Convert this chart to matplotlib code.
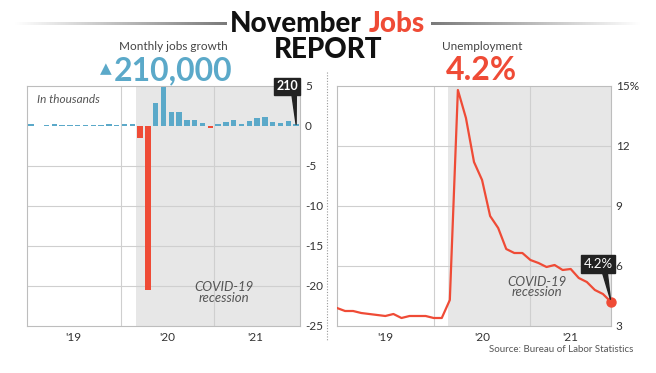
import numpy as np
import matplotlib
matplotlib.use("Agg")
import matplotlib.pyplot as plt
from matplotlib.lines import Line2D
from matplotlib.colors import LinearSegmentedColormap

plt.rcParams['font.family'] = ['Lato', 'DejaVu Sans']

# ── Palette ──────────────────────────────────────────────────────────────────
BLUE  = "#5BA9C9"
RED   = "#EF4B36"
SHADE = "#E7E7E7"
GRID  = "#CFCFCF"
FRAME = "#BDBDBD"
TEXT  = "#333333"
DIM   = "#555555"
DARK  = "#222222"

W, H = 656, 373

# ── Data ─────────────────────────────────────────────────────────────────────
# monthly payroll change (millions), Jan 2019 .. Nov 2021
jobs = [0.20, -0.05, 0.15, 0.20, 0.08, 0.15, 0.15, 0.15, 0.15, 0.15, 0.20, 0.15,
        0.30, 0.30, -1.55, -20.5, 2.9, 4.9, 1.8, 1.7, 0.75, 0.75, 0.35, -0.3,
        0.25, 0.5, 0.8, 0.3, 0.6, 1.0, 1.1, 0.5, 0.4, 0.6, 0.21]

# unemployment rate (%), Jan 2019 .. Nov 2021
unemp = [3.9, 3.75, 3.75, 3.65, 3.6, 3.55, 3.5, 3.6, 3.4, 3.5, 3.5, 3.5,
         3.4, 3.4, 4.3, 14.8, 13.4, 11.2, 10.3, 8.5, 7.9, 6.85, 6.65, 6.65,
         6.3, 6.15, 5.95, 6.05, 5.8, 5.85, 5.4, 5.2, 4.8, 4.6, 4.2]

year_labels = ["'19", "'20", "'21"]
jobs_ticks  = [5, 0, -5, -10, -15, -20, -25]
unemp_ticks = [15, 12, 9, 6, 3]
unemp_tick_labels = ["15%", "12", "9", "6", "3"]


def fx(x):
    return x / W


def fy(y):
    return 1 - y / H


def style_axes(ax):
    for s in ax.spines.values():
        s.set_color(FRAME)
        s.set_linewidth(0.8)
    ax.yaxis.tick_right()
    ax.tick_params(length=0, labelsize=8.5, colors=TEXT)
    ax.set_axisbelow(True)


fig = plt.figure(figsize=(W / 100, H / 100), dpi=100)
fig.patch.set_facecolor("white")

# ── Left panel: jobs ─────────────────────────────────────────────────────────
ax1 = fig.add_axes([fx(27), fy(326), fx(300) - fx(27), fy(86) - fy(326)])
n = len(jobs)
xs = np.arange(n)
colors = [BLUE if v >= 0 else RED for v in jobs]
ax1.bar(xs, jobs, width=0.7, color=colors, zorder=3)
ax1.axvspan(13.5, n - 0.5, color=SHADE, zorder=0, lw=0)
ax1.set_xlim(-0.5, n - 0.5)
ax1.set_ylim(-25, 5)
ax1.set_yticks(jobs_ticks)
ax1.set_yticklabels([str(t) for t in jobs_ticks])
for y in [-5, -10, -15, -20]:
    ax1.axhline(y, color=GRID, lw=0.8, zorder=1)
for x in [11.5, 23.5]:
    ax1.axvline(x, color=GRID, lw=0.8, zorder=1)
ax1.set_xticks([5.5, 17.5, 28.8])
ax1.set_xticklabels(year_labels)
style_axes(ax1)
ax1.tick_params(axis="x", pad=4)
ax1.text(0.035, 0.945, "In thousands", transform=ax1.transAxes, style="italic",
         fontsize=8.5, color=DIM, va="center", ha="left")
ax1.text(24.7, -20.8, "COVID-19\nrecession", style="italic", fontsize=9.5,
         color=DIM, ha="center", va="center", linespacing=0.9)
ax1.annotate("210", xy=(n - 1, jobs[-1]), xytext=(fx(287), fy(86)),
             textcoords="figure fraction", color="white", fontsize=9,
             fontweight="bold", ha="center", va="center",
             bbox=dict(boxstyle="square,pad=0.2", fc=DARK, ec=DARK),
             arrowprops=dict(arrowstyle="wedge,tail_width=0.35", fc=DARK,
                             ec=DARK, relpos=(0.82, 0.0), shrinkA=0, shrinkB=0),
             annotation_clip=False, zorder=6)

# ── Right panel: unemployment ────────────────────────────────────────────────
ax2 = fig.add_axes([fx(337), fy(326), fx(611) - fx(337), fy(86) - fy(326)])
m = len(unemp)
ux = np.arange(m)
ax2.plot(ux, unemp, color=RED, lw=1.6, zorder=3, solid_joinstyle="round")
ax2.plot(ux[-1], unemp[-1], "o", color=RED, ms=6.5, zorder=4, clip_on=False)
ax2.axvspan(13.75, m - 1, color=SHADE, zorder=0, lw=0)
ax2.set_xlim(0, m - 1)
ax2.set_ylim(3, 15)
ax2.set_yticks(unemp_ticks)
ax2.set_yticklabels(unemp_tick_labels)
for y in [12, 9, 6]:
    ax2.axhline(y, color=GRID, lw=0.8, zorder=1)
for x in [12, 24]:
    ax2.axvline(x, color=GRID, lw=0.8, zorder=1)
ax2.set_xticks([6, 18, 29])
ax2.set_xticklabels(year_labels)
style_axes(ax2)
ax2.tick_params(axis="x", pad=4)
ax2.text(24.8, 4.95, "COVID-19\nrecession", style="italic", fontsize=9.5,
         color=DIM, ha="center", va="center", linespacing=0.9)
ax2.annotate("4.2%", xy=(m - 1, unemp[-1]), xytext=(fx(598), fy(264)),
             textcoords="figure fraction", color="white", fontsize=9.5,
             ha="center", va="center",
             bbox=dict(boxstyle="square,pad=0.2", fc=DARK, ec=DARK),
             arrowprops=dict(arrowstyle="wedge,tail_width=0.35", fc=DARK,
                             ec=DARK, relpos=(0.72, 0.0), shrinkA=0, shrinkB=2),
             annotation_clip=False, zorder=6)

# ── Separator ────────────────────────────────────────────────────────────────
fig.add_artist(Line2D([fx(327), fx(327)], [fy(72), fy(340)], color="#9A9A9A",
                      lw=0.8, ls=(0, (1, 1.5)), transform=fig.transFigure))

# ── Title block ──────────────────────────────────────────────────────────────
fig.text(fx(362), fy(32), "November", fontsize=20, fontweight="black",
         color="#111111", ha="right", va="baseline")
fig.text(fx(369), fy(32), "Jobs", fontsize=20, fontweight="black",
         color=RED, ha="left", va="baseline")
fig.text(fx(328), fy(58), "REPORT", fontsize=20, fontweight="black",
         color="#111111", ha="center", va="baseline")

grad = np.linspace(0, 1, 256).reshape(1, -1)
cmap_l = LinearSegmentedColormap.from_list("l", ["#FFFFFF", "#7A7A7A"])
cmap_r = LinearSegmentedColormap.from_list("r", ["#7A7A7A", "#FFFFFF"])
for x0, x1, cm in [(15, 227, cmap_l), (431, 640, cmap_r)]:
    gax = fig.add_axes([fx(x0), fy(25), fx(x1) - fx(x0), 3 / H])
    gax.imshow(grad, aspect="auto", cmap=cm)
    gax.axis("off")

fig.text(fx(173), fy(47), "Monthly jobs growth", fontsize=8.5, color="#444444",
         ha="center", va="center")
fig.text(fx(106), fy(69), "▲", fontsize=11, color=BLUE, ha="center",
         va="center", family="DejaVu Sans")
fig.text(fx(173), fy(80), "210,000", fontsize=23, fontweight="bold",
         color=BLUE, ha="center", va="baseline")
fig.text(fx(482), fy(47), "Unemployment", fontsize=8.5, color="#444444",
         ha="center", va="center")
fig.text(fx(481), fy(80), "4.2%", fontsize=23, fontweight="bold",
         color=RED, ha="center", va="baseline")

fig.text(fx(633), fy(350), "Source: Bureau of Labor Statistics", fontsize=7,
         color=DIM, ha="right", va="center")

fig.savefig("out.png", dpi=100, facecolor="white")
